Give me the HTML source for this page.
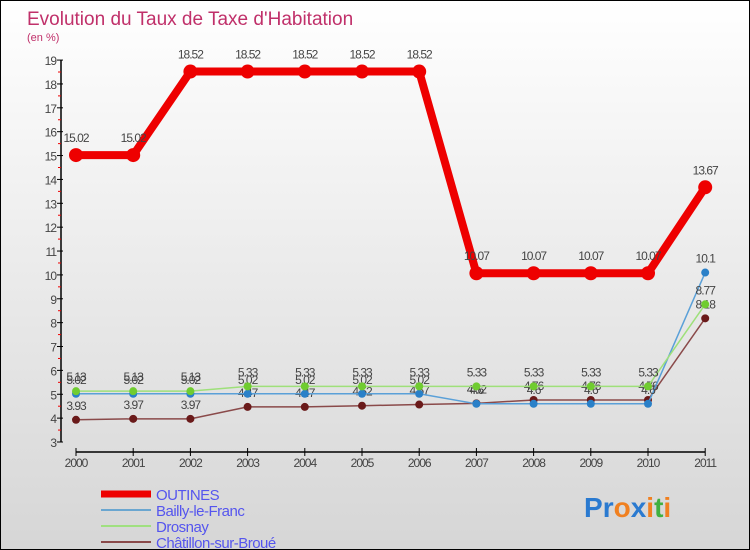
<!DOCTYPE html>
<html><head><meta charset="utf-8"><style>
body{margin:0}
#c{width:750px;height:550px;position:relative;background:linear-gradient(#ffffff,#d6d6d6);box-sizing:border-box;border:1px solid #000;overflow:hidden;font-family:"Liberation Sans",sans-serif}
text{font-family:"Liberation Sans",sans-serif}
</style></head><body>
<div id="c">
<svg id="s" width="750" height="550" style="position:absolute;left:0;top:0"></svg>
</div>
<script>
const years=["2000","2001","2002","2003","2004","2005","2006","2007","2008","2009","2010","2011"];
const outines=[15.02,15.02,18.52,18.52,18.52,18.52,18.52,10.07,10.07,10.07,10.07,13.67];
const bailly=[5.02,5.02,5.02,5.02,5.02,5.02,5.02,4.6,4.6,4.6,4.6,10.1];
const drosnay=[5.13,5.13,5.13,5.33,5.33,5.33,5.33,5.33,5.33,5.33,5.33,8.77];
const chatillon=[3.93,3.97,3.97,4.47,4.47,4.52,4.57,4.62,4.76,4.76,4.76,8.18];
const yTicks=[3,4,5,6,7,8,9,10,11,12,13,14,15,16,17,18,19];
const NS="http://www.w3.org/2000/svg";
const s=document.getElementById('s');
const X=i=>75+i*57.2;
const Y=v=>441-(v-3)*23.87;
function el(t,a,p){const e=document.createElementNS(NS,t);for(const k in a)e.setAttribute(k,a[k]);(p||s).appendChild(e);return e;}
function txt(x,y,str,a){const e=el('text',Object.assign({x:x,y:y},a));e.textContent=str;return e;}
let t=txt(26,24,"Evolution du Taux de Taxe d'Habitation",{fill:"#c0306a","font-size":19});

t=txt(26,40,"(en %)",{fill:"#c0306a","font-size":11});

// axes
let ax=el('line',{x1:60,y1:Y(19),x2:60,y2:Y(3),stroke:"#000","stroke-width":1.5});

yTicks.forEach(v=>{el('line',{x1:56,x2:62,y1:Y(v),y2:Y(v),stroke:"#000"});
 if(v<19)el('line',{x1:57,x2:60,y1:Y(v+0.5),y2:Y(v+0.5),stroke:"#e00"});
 let l=txt(55,Y(v)+5,String(v),{fill:"#444","font-size":12,"text-anchor":"end","letter-spacing":"-1"});
 });
ax=el('line',{x1:X(0),y1:451,x2:X(11),y2:451,stroke:"#000","stroke-width":1.5});

years.forEach((y,i)=>{el('line',{x1:X(i),x2:X(i),y1:447,y2:455,stroke:"#000"});
 let l=txt(X(i),466,y,{fill:"#444","font-size":12,"text-anchor":"middle","letter-spacing":"-1"});
 });
function series(data,color,w,r,dot,name){
 const g=el('g',{});
 el('polyline',{points:data.map((v,i)=>X(i)+','+Y(v)).join(' '),fill:'none',stroke:color,'stroke-width':w,'stroke-linejoin':'round'},g);
 data.forEach((v,i)=>{const c=el('circle',{cx:X(i),cy:Y(v),r:r,fill:dot},g);
  
  txt(X(i),Y(v)-(r+6),String(v),{fill:"#444","font-size":12,"text-anchor":"middle","letter-spacing":"-1"},g);});
}
series(chatillon,"#8a4a4a",1.5,4,"#6a1a1a","chatillon-series");
series(bailly,"#5aa0d8",1.5,4,"#2a80c8","bailly-series");
series(drosnay,"#9ee07a",1.5,4,"#70cc30","drosnay-series");
series(outines,"#ee0000",8,7,"#ee0000","outines-series");
// legend
const leg=[["OUTINES","#ee0000",7],["Bailly-le-Franc","#6aa6d0",2],["Drosnay","#a0e080",2],["Châtillon-sur-Broué","#8a4a4a",2]];
leg.forEach((l,i)=>{const g=el('g',{});
 const y=493+i*16;el('line',{x1:100,x2:150,y1:y,y2:y,stroke:l[1],'stroke-width':l[2]},g);
 txt(155,y+6,l[0],{fill:"#5555ee","font-size":15,"letter-spacing":"-0.5"},g);});
// logo
const lg=el('text',{x:583,y:516,'font-size':28,'font-weight':'bold'});

[["P","#2a7ad0"],["r","#2a7ad0"],["o","#f08020"],["x","#2a7ad0"],["i","#f08020"],["t","#40b040"],["i","#f08020"]].forEach(c=>{const sp=el('tspan',{fill:c[1]},lg);sp.textContent=c[0];});
</script>
</body></html>
